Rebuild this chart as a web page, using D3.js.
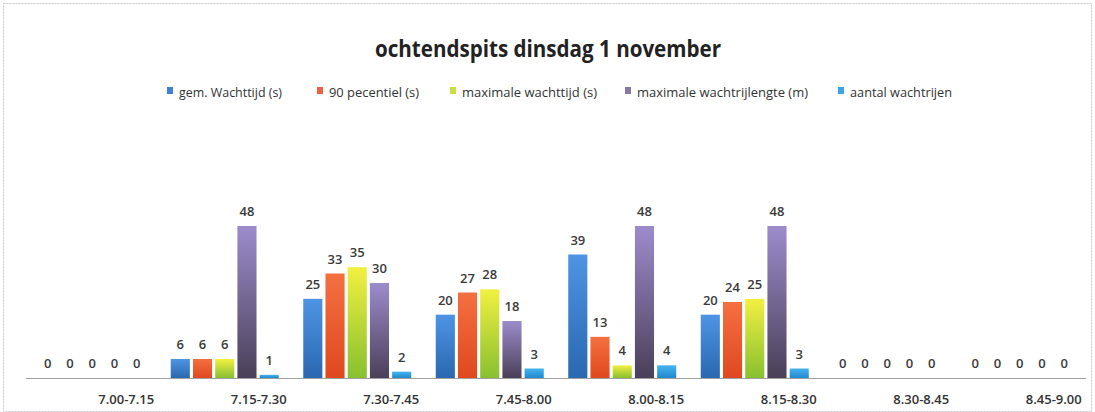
<!DOCTYPE html>
<html lang="nl">
<head>
<meta charset="utf-8">
<title>ochtendspits dinsdag 1 november</title>
<script src="https://cdn.jsdelivr.net/npm/d3@7"></script>
<style>
  body { margin: 0; background: #fff; }
  text { font-family: "Open Sans", "DejaVu Sans", sans-serif; fill: #333; }
</style>
</head>
<body>
<script>
// categories (time slots)
var categories = ["7.00-7.15", "7.15-7.30", "7.30-7.45", "7.45-8.00", "8.00-8.15", "8.15-8.30", "8.30-8.45", "8.45-9.00"];
var seriesNames = ["gem. Wachttijd (s)", "90 pecentiel (s)", "maximale wachttijd (s)", "maximale wachtrijlengte (m)", "aantal wachtrijen"];
var gemWachttijd   = [0, 6, 25, 20, 39, 20, 0, 0];
var pecentiel90    = [0, 6, 33, 27, 13, 24, 0, 0];
var maxWachttijd   = [0, 6, 35, 28, 4, 25, 0, 0];
var maxRijlengte   = [0, 48, 30, 18, 48, 48, 0, 0];
var aantalRijen    = [0, 1, 2, 3, 4, 3, 0, 0];
var seriesValues = [gemWachttijd, pecentiel90, maxWachttijd, maxRijlengte, aantalRijen];

// gradient colours per series: top, bottom
var colTop = ["#4e94e4", "#f47040", "#f2f040", "#9c8ccc", "#46b4f0"];
var colBot = ["#2a68b0", "#e04820", "#88c030", "#4a4058", "#2088cc"];
var legendCol = ["#3f7fd4", "#ee6040", "#c8e040", "#8878a8", "#3aa4e8"];

var w = 1095, h = 412;
var baseY = 378;

var svg = d3.select("body").append("svg")
  .attr("width", w).attr("height", h);

// gradients
var defs = svg.append("defs");
seriesNames.forEach(function(s, i) {
  var g = defs.append("linearGradient").attr("id", "g" + i)
    .attr("x1", 0).attr("y1", 0).attr("x2", 0).attr("y2", 1);
  g.append("stop").attr("offset", "0%").attr("stop-color", colTop[i]);
  g.append("stop").attr("offset", "100%").attr("stop-color", colBot[i]);
});

// frame
svg.append("rect").attr("x", 3.5).attr("y", 3.5).attr("width", w - 7).attr("height", h - 4)
  .attr("fill", "none").attr("stroke", "#c8c8d0").attr("stroke-dasharray", "2,1");

// scales
var x = d3.scaleBand().domain(categories).range([26, 1086]);
var xs = d3.scaleBand().domain(d3.range(5)).range([-54, 54]).paddingInner(0.14);
var y = d3.scaleLinear().domain([0, 48]).range([baseY, 226]);

// title
svg.append("text")
  .attr("x", 375).attr("y", 57)
  .attr("textLength", 346).attr("lengthAdjust", "spacingAndGlyphs")
  .style("font-size", "23px").style("font-weight", "bold")
  .style("fill", "#222")
  .text("ochtendspits dinsdag 1 november");

// legend
var legendX = [167, 317, 450, 625, 838];
var legendW = [103, 90, 135, 171, 102];
var legend = svg.append("g");
seriesNames.forEach(function(s, i) {
  legend.append("rect").attr("x", legendX[i]).attr("y", 87).attr("width", 6).attr("height", 7)
    .attr("fill", legendCol[i]);
  legend.append("text").attr("x", legendX[i] + 12).attr("y", 97)
    .attr("textLength", legendW[i]).attr("lengthAdjust", "spacingAndGlyphs")
    .style("font-size", "13px").text(s);
});

// bars
var groups = svg.selectAll("g.cat")
  .data(categories)
  .enter().append("g")
  .attr("class", "cat")
  .attr("transform", function(d) { return "translate(" + (x(d) + x.bandwidth() / 2) + ",0)"; });

groups.each(function(cat, ci) {
  var g = d3.select(this);
  var vals = seriesValues.map(function(arr) { return arr[ci]; });
  g.selectAll("rect").data(vals).enter().append("rect")
    .attr("x", function(d, i) { return xs(i); })
    .attr("width", xs.bandwidth())
    .attr("y", function(d) { return y(d); })
    .attr("height", function(d) { return baseY - y(d); })
    .attr("fill", function(d, i) { return "url(#g" + i + ")"; });
  g.selectAll("text.val").data(vals).enter().append("text")
    .attr("class", "val")
    .attr("x", function(d, i) { return xs(i) + xs.bandwidth() / 2; })
    .attr("y", function(d) { return y(d) - 10; })
    .attr("text-anchor", "middle")
    .style("font-size", "13px").style("font-weight", "600").style("fill", "#3a3a3a")
    .text(function(d) { return d; });
});

// axis line
svg.append("line").attr("x1", 26).attr("x2", 1086).attr("y1", baseY + 0.5).attr("y2", baseY + 0.5)
  .attr("stroke", "#a0a0a0").attr("stroke-width", 1);

// category labels (shifted right as in the original)
svg.selectAll("text.cat")
  .data(categories)
  .enter().append("text")
  .attr("class", "cat")
  .attr("x", function(d) { return x(d) + x.bandwidth() / 2 + 34; })
  .attr("y", 404)
  .attr("text-anchor", "middle")
  .style("font-size", "13px").style("font-weight", "600").style("fill", "#333")
  .text(function(d) { return d; });
</script>
</body>
</html>
